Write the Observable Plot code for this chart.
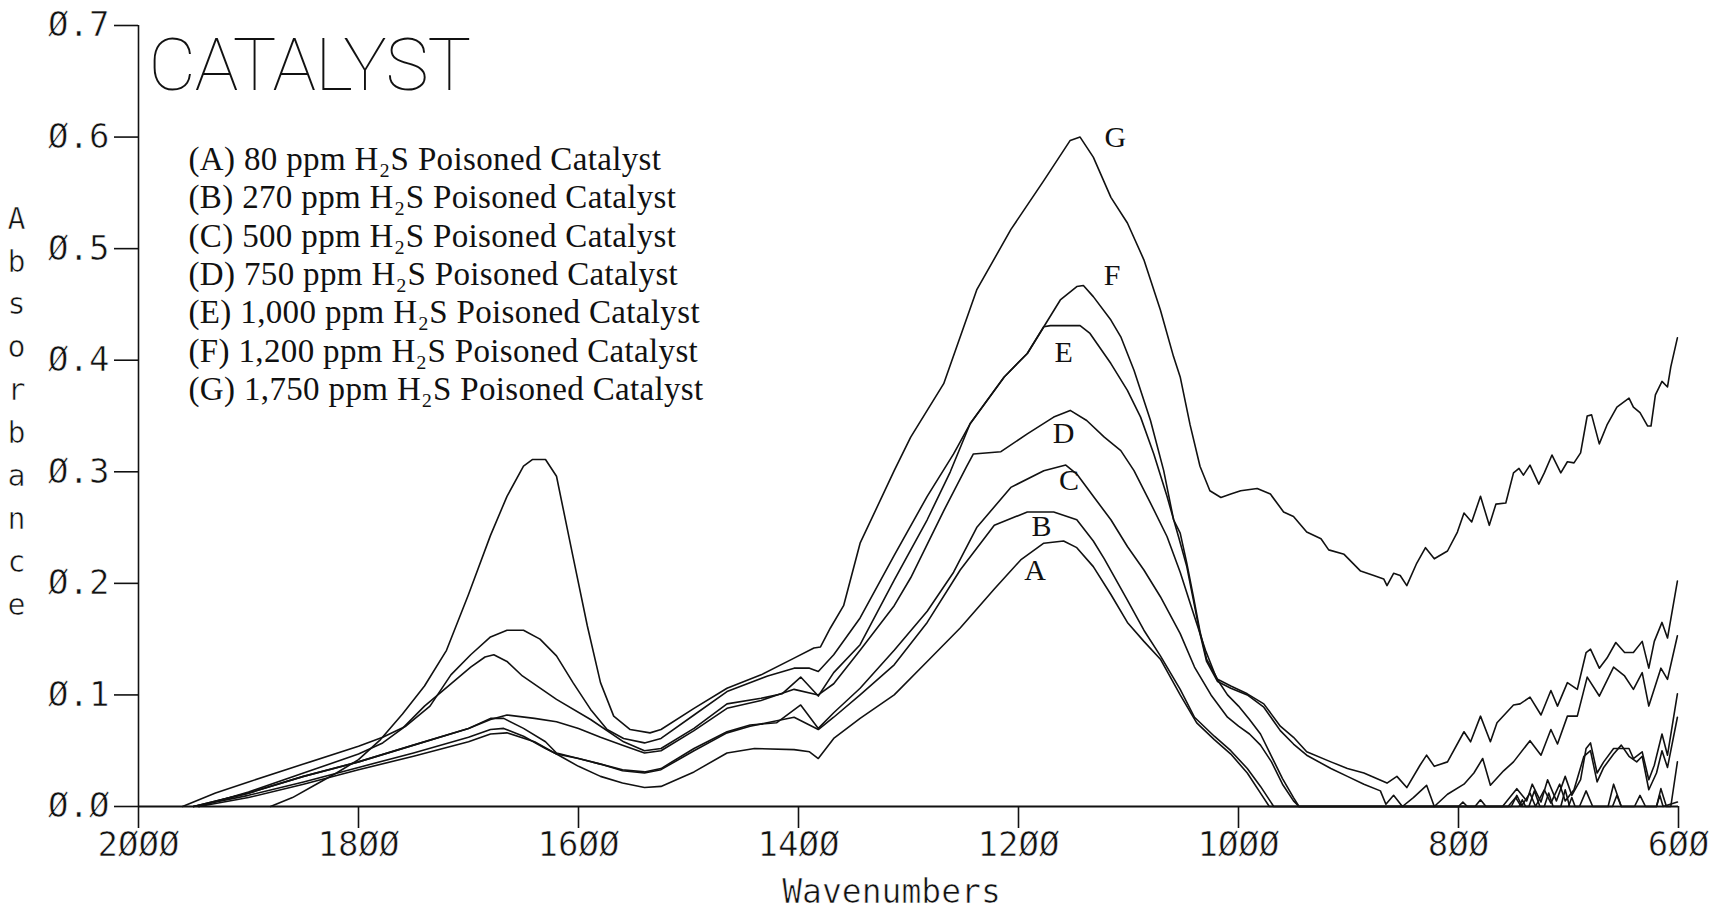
<!DOCTYPE html>
<html>
<head>
<meta charset="utf-8">
<script src="https://cdn.jsdelivr.net/npm/d3@7"></script>
<script src="https://cdn.jsdelivr.net/npm/@observablehq/plot@0.6"></script>
<style>
  html, body { margin: 0; padding: 0; background: #fff; }
  #chart { width: 1710px; height: 912px; }
</style>
</head>
<body>
<div id="chart"></div>
<script>
// ---------- DATA ----------
const seriesNames = ["A", "B", "C", "D", "E", "F", "G"];

// [wavenumber (cm-1), absorbance]
const curveA = [[1945,0],[1900,0.008],[1850,0.02],[1800,0.033],[1750,0.045],[1700,0.058],[1680,0.065],[1665,0.066],[1640,0.058],[1620,0.047],[1600,0.036],[1580,0.027],[1560,0.021],[1540,0.017],[1525,0.018],[1495,0.031],[1465,0.048],[1440,0.052],[1404,0.051],[1390,0.049],[1382,0.043],[1368,0.061],[1344,0.079],[1313,0.1],[1283,0.13],[1253,0.16],[1222,0.195],[1198,0.221],[1177,0.236],[1159,0.238],[1147,0.232],[1132,0.215],[1116,0.19],[1101,0.165],[1086,0.148],[1071,0.132],[1053,0.1],[1038,0.075],[1022,0.06],[1007,0.047],[992,0.03],[980,0.012],[972,0],[800,0],[796,0.004],[792,0],[745,0],[742,0.006],[739,0],[700,0],[697,0.008],[694,0],[660,0],[656,0.01],[652,0],[620,0],[617,0.01],[614,0],[601,0.004]];

const curveB = [[1950,0],[1900,0.01],[1850,0.022],[1800,0.035],[1750,0.048],[1700,0.062],[1680,0.069],[1668,0.07],[1650,0.063],[1630,0.052],[1620,0.047],[1600,0.043],[1580,0.038],[1560,0.032],[1540,0.03],[1525,0.033],[1495,0.05],[1465,0.066],[1444,0.072],[1404,0.08],[1382,0.069],[1368,0.08],[1344,0.1],[1313,0.127],[1283,0.165],[1253,0.212],[1222,0.252],[1192,0.264],[1168,0.264],[1147,0.257],[1132,0.238],[1122,0.222],[1101,0.185],[1086,0.158],[1071,0.135],[1053,0.105],[1040,0.08],[1022,0.063],[1007,0.05],[992,0.034],[980,0.018],[968,0],[785,0],[780,0.006],[775,0],[752,0],[747,0.01],[742,0],[736,0],[731,0.014],[726,0],[722,0],[718,0.012],[714,0],[707,0],[703,0.015],[699,0],[690,0],[684,0.014],[678,0],[664,0],[659,0.02],[652,0],[640,0],[635,0.01],[630,0],[620,0],[616,0.016],[611,0],[607,0],[601,0.04]];

const curveC = [[1950,0],[1900,0.012],[1850,0.027],[1800,0.04],[1750,0.055],[1700,0.07],[1680,0.079],[1668,0.079],[1650,0.07],[1630,0.058],[1620,0.048],[1600,0.043],[1580,0.038],[1560,0.033],[1540,0.031],[1525,0.034],[1495,0.052],[1465,0.067],[1444,0.073],[1420,0.075],[1398,0.091],[1382,0.07],[1368,0.084],[1344,0.106],[1313,0.14],[1283,0.175],[1259,0.21],[1238,0.25],[1207,0.286],[1177,0.301],[1157,0.306],[1147,0.298],[1132,0.278],[1116,0.257],[1101,0.233],[1086,0.212],[1071,0.188],[1053,0.155],[1040,0.125],[1025,0.1],[1010,0.08],[1000,0.072],[990,0.065],[980,0.055],[970,0.04],[960,0.02],[950,0.005],[945,0],[755,0],[748,0.008],[743,0],[735,0.012],[730,0],[722,0.015],[716,0.003],[708,0.02],[703,0.005],[695,0.015],[686,0.045],[680,0.05],[674,0.022],[668,0.035],[659,0.047],[652,0.055],[645,0.045],[638,0.04],[633,0.045],[627,0.015],[620,0.03],[615,0.05],[610,0.035],[601,0.08]];

const curveD = [[1950,0],[1900,0.012],[1850,0.027],[1800,0.04],[1750,0.055],[1700,0.07],[1680,0.078],[1665,0.082],[1640,0.079],[1620,0.076],[1600,0.07],[1580,0.062],[1560,0.055],[1540,0.048],[1525,0.05],[1495,0.068],[1465,0.088],[1434,0.095],[1404,0.105],[1382,0.1],[1368,0.11],[1344,0.14],[1313,0.18],[1298,0.205],[1283,0.235],[1268,0.265],[1247,0.305],[1241,0.316],[1216,0.318],[1192,0.334],[1168,0.349],[1153,0.355],[1138,0.346],[1122,0.331],[1107,0.319],[1095,0.301],[1080,0.272],[1065,0.242],[1053,0.21],[1040,0.17],[1030,0.14],[1020,0.115],[1010,0.1],[1000,0.09],[990,0.078],[980,0.065],[970,0.045],[960,0.025],[950,0.008],[945,0],[760,0],[747,0.016],[738,0.005],[733,0.02],[725,0.004],[719,0.024],[711,0.005],[703,0.027],[697,0.01],[689,0.024],[684,0.052],[680,0.057],[674,0.03],[668,0.04],[659,0.052],[652,0.052],[645,0.052],[641,0.043],[633,0.049],[627,0.024],[622,0.037],[615,0.065],[610,0.046],[601,0.101]];

const curveE = [[1945,0],[1900,0.013],[1850,0.03],[1800,0.047],[1778,0.057],[1760,0.07],[1740,0.09],[1716,0.11],[1698,0.125],[1685,0.134],[1677,0.136],[1665,0.13],[1651,0.117],[1620,0.096],[1589,0.078],[1559,0.058],[1540,0.05],[1525,0.052],[1495,0.07],[1465,0.092],[1434,0.097],[1415,0.101],[1398,0.116],[1382,0.099],[1368,0.12],[1344,0.145],[1313,0.203],[1283,0.257],[1262,0.3],[1244,0.343],[1213,0.385],[1192,0.406],[1177,0.43],[1171,0.431],[1144,0.431],[1135,0.424],[1116,0.397],[1101,0.373],[1089,0.349],[1077,0.316],[1065,0.278],[1054,0.24],[1047,0.215],[1041,0.185],[1035,0.155],[1029,0.13],[1019,0.112],[1007,0.106],[992,0.1],[977,0.089],[962,0.068],[950,0.056],[938,0.046],[916,0.034],[901,0.027],[886,0.02],[871,0.014],[866,0.002],[859,0.01],[851,0],[841,0.008],[829,0.019],[822,0],[810,0.011],[795,0.02],[786,0.03],[778,0.043],[771,0.019],[759,0.032],[750,0.04],[735,0.059],[725,0.046],[716,0.069],[710,0.056],[701,0.081],[692,0.081],[683,0.116],[672,0.099],[659,0.125],[649,0.117],[641,0.105],[633,0.12],[627,0.09],[616,0.124],[610,0.114],[601,0.153]];

const curveF = [[1960,0],[1930,0.012],[1900,0.022],[1850,0.038],[1800,0.054],[1778,0.062],[1757,0.072],[1735,0.09],[1716,0.118],[1698,0.136],[1680,0.152],[1665,0.158],[1650,0.158],[1635,0.15],[1620,0.135],[1605,0.111],[1589,0.087],[1574,0.069],[1559,0.061],[1540,0.057],[1525,0.061],[1495,0.082],[1465,0.103],[1428,0.117],[1404,0.124],[1390,0.124],[1382,0.121],[1368,0.136],[1344,0.169],[1313,0.225],[1283,0.278],[1259,0.316],[1244,0.343],[1213,0.385],[1192,0.406],[1177,0.43],[1162,0.454],[1147,0.466],[1141,0.467],[1132,0.457],[1116,0.436],[1107,0.421],[1095,0.391],[1080,0.346],[1068,0.301],[1059,0.257],[1053,0.245],[1047,0.218],[1041,0.188],[1035,0.157],[1029,0.132],[1019,0.114],[1007,0.108],[992,0.101],[977,0.092],[962,0.072],[950,0.062],[938,0.049],[916,0.04],[901,0.034],[886,0.03],[865,0.021],[856,0.027],[847,0.017],[835,0.037],[829,0.046],[822,0.036],[810,0.04],[795,0.067],[789,0.058],[780,0.081],[771,0.058],[765,0.075],[750,0.091],[744,0.092],[735,0.098],[725,0.082],[716,0.104],[710,0.09],[701,0.111],[692,0.105],[684,0.138],[680,0.141],[672,0.124],[665,0.133],[657,0.147],[649,0.138],[641,0.138],[633,0.148],[627,0.124],[622,0.148],[615,0.165],[610,0.151],[601,0.202]];

const curveG = [[1880,0],[1860,0.008],[1840,0.019],[1820,0.03],[1800,0.042],[1780,0.06],[1760,0.083],[1740,0.108],[1720,0.14],[1700,0.19],[1680,0.243],[1665,0.278],[1650,0.305],[1642,0.311],[1630,0.311],[1620,0.296],[1605,0.224],[1592,0.162],[1580,0.111],[1568,0.081],[1553,0.069],[1535,0.066],[1525,0.069],[1495,0.088],[1465,0.106],[1434,0.118],[1404,0.133],[1386,0.142],[1380,0.143],[1371,0.16],[1359,0.18],[1344,0.236],[1313,0.301],[1298,0.331],[1268,0.379],[1238,0.463],[1207,0.517],[1177,0.561],[1153,0.597],[1144,0.6],[1132,0.582],[1116,0.546],[1101,0.523],[1086,0.49],[1071,0.445],[1059,0.403],[1053,0.385],[1044,0.342],[1035,0.305],[1026,0.283],[1016,0.277],[1007,0.28],[998,0.283],[983,0.285],[971,0.28],[959,0.264],[950,0.26],[938,0.246],[925,0.24],[918,0.23],[904,0.226],[889,0.211],[877,0.207],[868,0.204],[865,0.198],[859,0.209],[853,0.207],[847,0.198],[838,0.218],[830,0.232],[822,0.222],[810,0.229],[801,0.246],[795,0.263],[788,0.255],[780,0.278],[772,0.252],[766,0.271],[757,0.272],[750,0.299],[745,0.303],[741,0.297],[735,0.306],[727,0.289],[722,0.299],[715,0.315],[707,0.299],[701,0.309],[695,0.308],[689,0.317],[683,0.35],[679,0.351],[672,0.325],[665,0.342],[656,0.358],[645,0.366],[641,0.358],[635,0.353],[628,0.341],[625,0.341],[621,0.369],[615,0.381],[610,0.376],[607,0.394],[601,0.42]];

const xTicks = [2000, 1800, 1600, 1400, 1200, 1000, 800, 600];
const yTicks = [0, 0.1, 0.2, 0.3, 0.4, 0.5, 0.6, 0.7];

const titleText = "CATALYST";
const xLabel = "Wavenumbers";
const yLabel = "Absorbance";

const legendLines = [
  "(A) 80 ppm H₂S Poisoned Catalyst",
  "(B) 270 ppm H₂S Poisoned Catalyst",
  "(C) 500 ppm H₂S Poisoned Catalyst",
  "(D) 750 ppm H₂S Poisoned Catalyst",
  "(E) 1,000 ppm H₂S Poisoned Catalyst",
  "(F) 1,200 ppm H₂S Poisoned Catalyst",
  "(G) 1,750 ppm H₂S Poisoned Catalyst"
];

const labelText = ["G", "F", "E", "D", "C", "B", "A"];
const labelWavenumber = [1112, 1115, 1159, 1159, 1154, 1179, 1185];
const labelAbsorbance = [0.600, 0.476, 0.407, 0.334, 0.292, 0.251, 0.212];

// ---------- BUILD ----------
const curves = {A: curveA, B: curveB, C: curveC, D: curveD, E: curveE, F: curveF, G: curveG};
const rows = seriesNames.flatMap(s => curves[s].map(([w, a]) => ({series: s, w, a})));
const labelRows = labelText.map((t, i) => ({t, w: labelWavenumber[i], a: labelAbsorbance[i]}));
const slashZero = s => s.replace(/0/g, "Ø");

const ink = "#111";
const mono = "'DejaVu Sans Mono', monospace";
const serif = "'Liberation Serif', 'DejaVu Serif', serif";

const plot = Plot.plot({
  width: 1710,
  height: 912,
  marginLeft: 138,
  marginRight: 32,
  marginTop: 25,
  marginBottom: 106,
  style: {background: "#fff", color: ink, fontFamily: mono, fontSize: "34px"},
  x: {domain: [2000, 600], label: null},
  y: {domain: [0, 0.7], label: null},
  marks: [
    Plot.axisX({ticks: xTicks, tickFormat: d => slashZero(String(d)), tickSize: 22, tickPadding: 3,
      fontSize: 34, fontFamily: mono, strokeWidth: 1.6, stroke: ink, fill: ink, label: null}),
    Plot.axisY({ticks: yTicks, tickFormat: d => slashZero(d.toFixed(1)), tickSize: 24, tickPadding: 5,
      fontSize: 34, fontFamily: mono, strokeWidth: 1.6, stroke: ink, fill: ink, label: null}),
    Plot.ruleY([0], {stroke: ink, strokeWidth: 1.8}),
    Plot.ruleX([2000], {stroke: ink, strokeWidth: 1.6}),
    Plot.line(rows, {x: "w", y: "a", z: "series", stroke: ink, strokeWidth: 1.6, curve: "linear"}),
    Plot.text(labelRows, {x: "w", y: "a", text: "t", fontSize: 30, fontFamily: serif, fill: ink}),
    Plot.text([legendLines.join("\n")], {frameAnchor: "top-left", dx: 50, dy: 117, lineAnchor: "top",
      textAnchor: "start", lineHeight: 1.164, fontSize: 33, fontFamily: serif, fill: ink}),
    Plot.text([titleText], {frameAnchor: "top-left", dx: 10, dy: 13, lineAnchor: "top", textAnchor: "start",
      fontSize: 73, fontFamily: "Roboto, 'DejaVu Sans', sans-serif", fontWeight: 100, fill: ink}),
    Plot.text([yLabel.split("").join("\n")], {frameAnchor: "left", dx: -122, dy: -8, textAnchor: "middle",
      lineHeight: 1.43, fontSize: 30, fontFamily: mono, fill: ink}),
    Plot.text([xLabel], {frameAnchor: "bottom", dx: -17, dy: 73, lineAnchor: "top", textAnchor: "middle",
      fontSize: 33, fontFamily: mono, fill: ink})
  ]
});

// finishing touches on lettering
plot.querySelectorAll("text").forEach(t => {
  if (t.textContent === titleText) t.setAttribute("letter-spacing", "-1");
  if (t.textContent.startsWith("(A)")) t.setAttribute("letter-spacing", "0.35");
  const holder = t.closest("[font-family]");
  const ff = holder ? holder.getAttribute("font-family") : "";
  if (ff.includes("DejaVu Sans Mono")) {
    // thin the strokes a little to resemble pen-plotter lettering
    t.setAttribute("stroke", "#fff");
    t.setAttribute("stroke-width", "0.6");
    t.setAttribute("paint-order", "normal");
  }
});

document.getElementById("chart").appendChild(plot);
</script>
</body>
</html>
